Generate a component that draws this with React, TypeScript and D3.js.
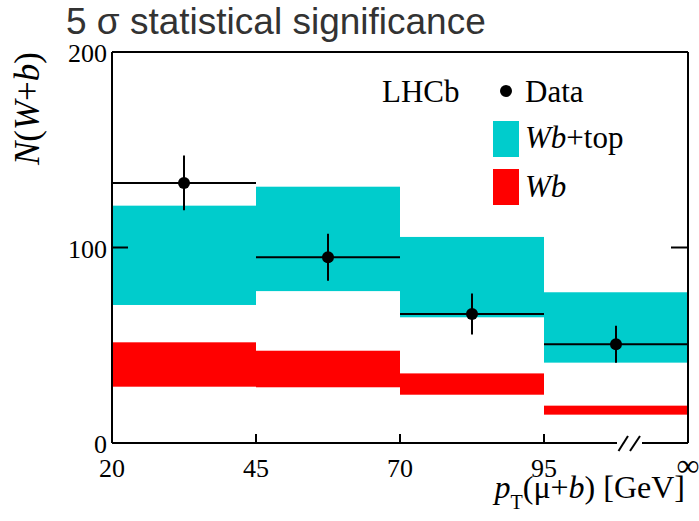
import React from "react";
import * as d3 from "d3";

const binLabels = ["20", "45", "70", "95", "∞"];
const yTicks = [0, 100, 200];
const dataValues = [133, 95, 66, 50.5];
const dataErrors = [14, 12, 10.5, 9.5];
const wbTopLow = [70.6, 77.7, 64.3, 41.1];
const wbTopHigh = [121.4, 131.1, 105.4, 77.1];
const wbLow = [28.8, 28.5, 24.7, 14.5];
const wbHigh = [51.5, 47.2, 35.6, 19.1];

const W = 699;
const H = 521;
const L = 112, R = 688, T = 52, B = 443;
const SERIF = "Liberation Serif";
const SANS = "Liberation Sans";
const CYAN = "#00CCCC";
const RED = "#FF0000";

export default function App() {
  const x = d3.scaleLinear().domain([0, binLabels.length - 1]).range([L, R]);
  const y = d3.scaleLinear().domain([0, 200]).range([B, T]);
  const bins = d3.range(dataValues.length);
  const breakX1 = 617, breakX2 = 642;

  return (
    <svg width={W} height={H} style={{ position: "absolute", left: 0, top: 0 }}>
      <rect x={0} y={0} width={W} height={H} fill="#fff" />
      {/* title */}
      <text x={66} y={34} fontFamily={SANS} fontSize={37} fill="#333">
        5 σ statistical significance
      </text>

      {/* bands */}
      {bins.map((i) => (
        <rect key={"c" + i} x={x(i)} width={x(i + 1) - x(i)} y={y(wbTopHigh[i])}
          height={y(wbTopLow[i]) - y(wbTopHigh[i])} fill={CYAN} />
      ))}
      {bins.map((i) => (
        <rect key={"r" + i} x={x(i)} width={x(i + 1) - x(i)} y={y(wbHigh[i])}
          height={y(wbLow[i]) - y(wbHigh[i])} fill={RED} />
      ))}

      {/* data */}
      {bins.map((i) => {
        const cx = (x(i) + x(i + 1)) / 2;
        return (
          <g key={"d" + i} stroke="#000" strokeWidth={2}>
            <line x1={x(i)} x2={x(i + 1)} y1={y(dataValues[i])} y2={y(dataValues[i])} />
            <line x1={cx} x2={cx} y1={y(dataValues[i] + dataErrors[i])} y2={y(dataValues[i] - dataErrors[i])} />
            <circle cx={cx} cy={y(dataValues[i])} r={6} fill="#000" stroke="none" />
          </g>
        );
      })}

      {/* frame */}
      <g stroke="#000" strokeWidth={2} fill="none">
        <line x1={L} x2={R} y1={T} y2={T} />
        <line x1={L} x2={L} y1={T} y2={B} />
        <line x1={R} x2={R} y1={T} y2={B} />
        <line x1={L} x2={breakX1} y1={B} y2={B} />
        <line x1={breakX2} x2={R} y1={B} y2={B} />
        <line x1={618.5} x2={628} y1={451} y2={436} />
        <line x1={630} x2={640} y1={451} y2={436} />
        {yTicks.map((t) => (
          <line key={"yl" + t} x1={L} x2={L + 16} y1={y(t)} y2={y(t)} />
        ))}
        {yTicks.filter((t) => t > 0).map((t) => (
          <line key={"yr" + t} x1={R} x2={R - 17} y1={y(t)} y2={y(t)} />
        ))}
        {binLabels.slice(1, -1).map((_, k) => (
          <line key={"xt" + k} x1={x(k + 1)} x2={x(k + 1)} y1={B} y2={B - 9} />
        ))}
      </g>

      {/* tick labels */}
      {yTicks.map((t) => (
        <text key={"ylab" + t} x={107} y={y(t) + 10} textAnchor="end" fontFamily={SERIF} fontSize={26}>
          {t}
        </text>
      ))}
      {binLabels.map((lab, k) => (
        <text key={"xlab" + k} x={x(k)} y={lab === "∞" ? 476 : 477} textAnchor="middle"
          fontFamily={SERIF} fontSize={lab === "∞" ? 32 : 26}>
          {lab}
        </text>
      ))}

      {/* axis titles */}
      <text x={685} y={498} textAnchor="end" fontFamily={SERIF} fontSize={32}>
        <tspan fontStyle="italic">p</tspan>
        <tspan fontSize={20} dy={11}>T</tspan>
        <tspan dy={-11}>(μ+</tspan>
        <tspan fontStyle="italic">b</tspan>
        <tspan>) [GeV]</tspan>
      </text>
      <text transform="translate(39,52) rotate(-90)" textAnchor="end" fontFamily={SERIF} fontSize={35}>
        <tspan fontStyle="italic">N</tspan>
        <tspan>(</tspan>
        <tspan fontStyle="italic">W</tspan>
        <tspan>+</tspan>
        <tspan fontStyle="italic">b</tspan>
        <tspan>)</tspan>
      </text>

      {/* legend */}
      <text x={382} y={102} fontFamily={SERIF} fontSize={31}>LHCb</text>
      <circle cx={506} cy={91} r={6} fill="#000" />
      <text x={525} y={102} fontFamily={SERIF} fontSize={31}>Data</text>
      <rect x={493} y={121} width={26} height={36} fill={CYAN} />
      <text x={525} y={148} fontFamily={SERIF} fontSize={31}>
        <tspan fontStyle="italic">Wb</tspan>
        <tspan>+top</tspan>
      </text>
      <rect x={493} y={169} width={26} height={36} fill={RED} />
      <text x={525} y={197} fontFamily={SERIF} fontSize={31} fontStyle="italic">Wb</text>
    </svg>
  );
}
